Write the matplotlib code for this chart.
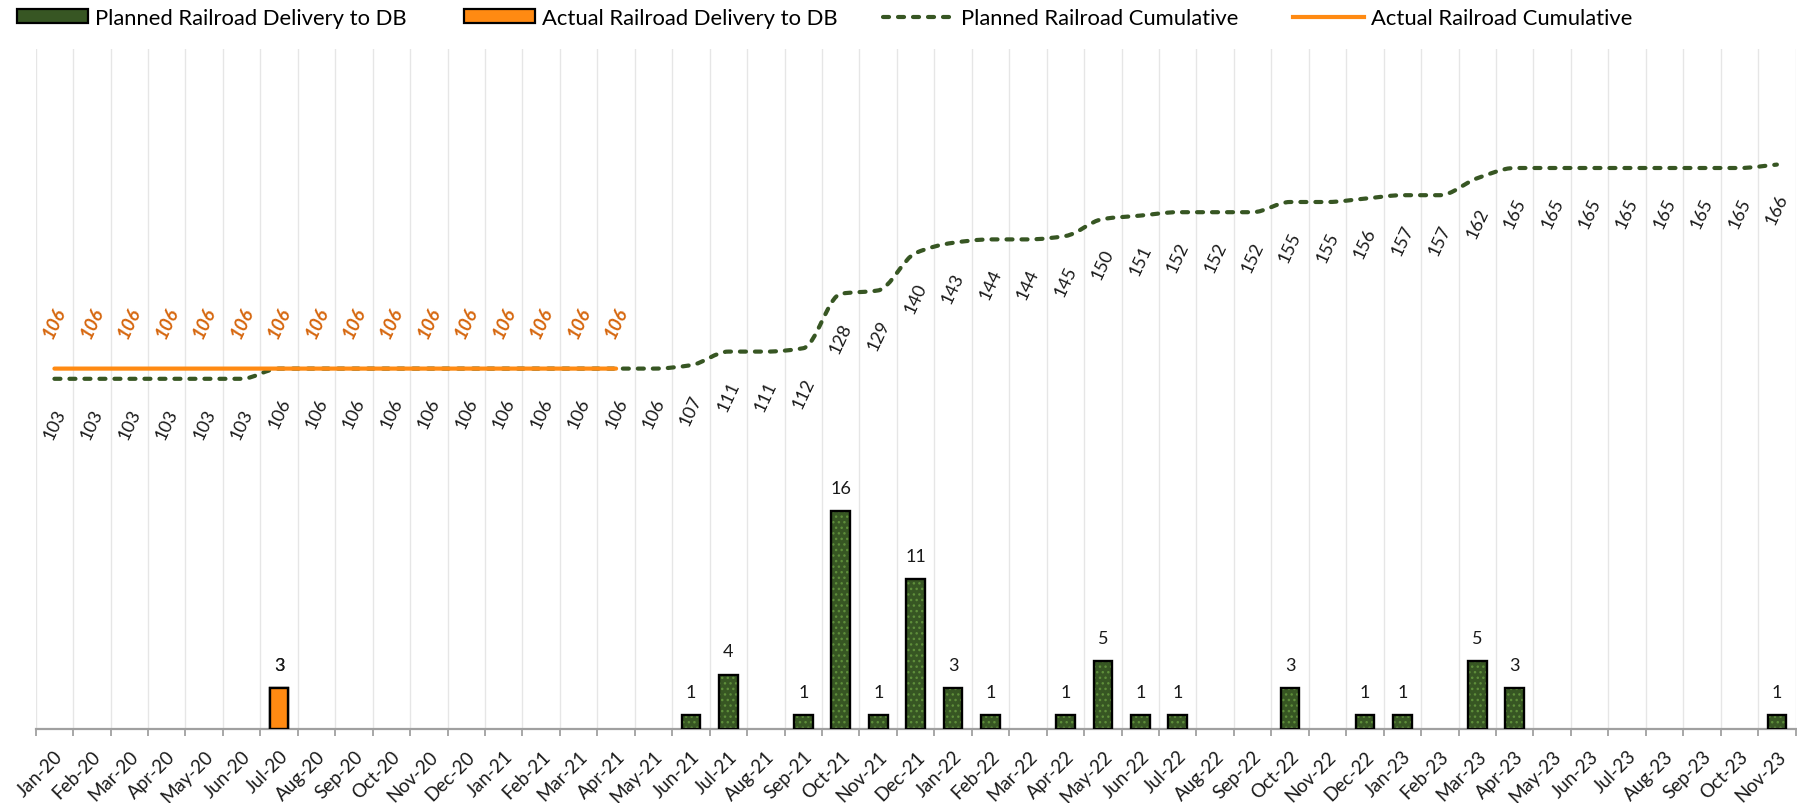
import numpy as np
import matplotlib
matplotlib.use("Agg")
import matplotlib.pyplot as plt
from matplotlib.path import Path
from matplotlib.patches import PathPatch, Patch
from matplotlib.lines import Line2D

# ---------------- data ----------------
months = ["Jan-20", "Feb-20", "Mar-20", "Apr-20", "May-20", "Jun-20", "Jul-20", "Aug-20",
          "Sep-20", "Oct-20", "Nov-20", "Dec-20", "Jan-21", "Feb-21", "Mar-21", "Apr-21",
          "May-21", "Jun-21", "Jul-21", "Aug-21", "Sep-21", "Oct-21", "Nov-21", "Dec-21",
          "Jan-22", "Feb-22", "Mar-22", "Apr-22", "May-22", "Jun-22", "Jul-22", "Aug-22",
          "Sep-22", "Oct-22", "Nov-22", "Dec-22", "Jan-23", "Feb-23", "Mar-23", "Apr-23",
          "May-23", "Jun-23", "Jul-23", "Aug-23", "Sep-23", "Oct-23", "Nov-23"]

planned_delivery = [0, 0, 0, 0, 0, 0, 3, 0, 0, 0, 0, 0, 0, 0, 0, 0,
                    0, 1, 4, 0, 1, 16, 1, 11, 3, 1, 0, 1, 5, 1, 1, 0,
                    0, 3, 0, 1, 1, 0, 5, 3, 0, 0, 0, 0, 0, 0, 1]

actual_delivery = [0, 0, 0, 0, 0, 0, 3, 0, 0, 0, 0, 0, 0, 0, 0, 0]

planned_cumulative = [103, 103, 103, 103, 103, 103, 106, 106, 106, 106, 106, 106, 106, 106, 106, 106,
                      106, 107, 111, 111, 112, 128, 129, 140, 143, 144, 144, 145, 150, 151, 152, 152,
                      152, 155, 155, 156, 157, 157, 162, 165, 165, 165, 165, 165, 165, 165, 166]

actual_cumulative = [106, 106, 106, 106, 106, 106, 106, 106, 106, 106, 106, 106, 106, 106, 106, 106]

series_names = ["Planned Railroad Delivery to DB", "Actual Railroad Delivery to DB",
                "Planned Railroad Cumulative", "Actual Railroad Cumulative"]

# ---------------- style ----------------
GREEN = "#375623"
DOT_GREEN = "#5E8E3A"
ORANGE = "#FF8A12"
ORANGE_TXT = "#D6670F"
GRID = "#E6E6E6"
AXIS = "#A0A0A0"
TXT = "#1A1A1A"
DASH = (0, (1.45, 2.15))

plt.rcParams["font.family"] = ["Lato", "DejaVu Sans"]
plt.rcParams["hatch.linewidth"] = 1.0

W, H, DPI = 1797, 804, 100
fig = plt.figure(figsize=(W / DPI, H / DPI), dpi=DPI)
ax = fig.add_axes([35.7 / W, (H - 730) / H, (1795.6 - 35.7) / W, (730 - 50) / H])
ax2 = ax.twinx()

n = len(months)
x = np.arange(n)
pdel = np.array(planned_delivery)
adel = np.array(actual_delivery)
xp = x[pdel > 0]
xa = np.arange(len(adel))[adel > 0]

# ---- bars ----
bw = 0.5
ax.bar(xp, pdel[pdel > 0], width=bw, color=GREEN, edgecolor=DOT_GREEN, linewidth=0,
       hatch="...", zorder=2)
ax.bar(xp, pdel[pdel > 0], width=bw, facecolor="none", edgecolor="black", linewidth=1.7, zorder=3)
ax.bar(xa, adel[adel > 0], width=bw, color=ORANGE, edgecolor="black", linewidth=1.7, zorder=4)

for i in xp:
    ax.annotate(str(pdel[i]), (i, pdel[i]), xytext=(0, 11), textcoords="offset points",
                ha="center", va="bottom", fontsize=13, color=TXT, zorder=6)
for i in xa:
    ax.annotate(str(adel[i]), (i, adel[i]), xytext=(0, 11), textcoords="offset points",
                ha="center", va="bottom", fontsize=13, color=TXT, zorder=6)

ax.set_xlim(-0.5, n - 0.5)
ax.set_ylim(0, 50)
ax2.set_ylim(0, 200)

# ---- smoothed (monotone) lines ----
def smooth_path(xs, ys):
    xs = np.asarray(xs, float)
    ys = np.asarray(ys, float)
    m = len(xs)
    d = np.diff(ys) / np.diff(xs)
    t = np.zeros(m)
    t[0], t[-1] = d[0], d[-1]
    for k in range(1, m - 1):
        if d[k - 1] * d[k] > 0:
            t[k] = 2.0 / (1.0 / d[k - 1] + 1.0 / d[k])
    verts = [(xs[0], ys[0])]
    codes = [Path.MOVETO]
    for k in range(m - 1):
        h = xs[k + 1] - xs[k]
        verts += [(xs[k] + h / 3, ys[k] + t[k] * h / 3),
                  (xs[k + 1] - h / 3, ys[k + 1] - t[k + 1] * h / 3),
                  (xs[k + 1], ys[k + 1])]
        codes += [Path.CURVE4] * 3
    return Path(verts, codes)

pp = PathPatch(smooth_path(x, planned_cumulative), fill=False, edgecolor=GREEN, linewidth=3.0,
               linestyle=DASH, capstyle="round", zorder=3)
ax2.add_patch(pp)
ap = PathPatch(smooth_path(np.arange(len(actual_cumulative)), actual_cumulative), fill=False,
               edgecolor=ORANGE, linewidth=3.0, capstyle="round", zorder=4)
ax2.add_patch(ap)

for i, v in enumerate(planned_cumulative):
    ax2.annotate(str(v), (i, v), xytext=(0, -32), textcoords="offset points",
                 ha="center", va="center", rotation=65, fontsize=13, color=TXT)
for i, v in enumerate(actual_cumulative):
    ax2.annotate(str(v), (i, v), xytext=(0, 33), textcoords="offset points",
                 ha="center", va="center", rotation=65, fontsize=13.5, color=ORANGE_TXT,
                 fontweight="bold", fontstyle="italic")

# ---- axes styling ----
ax.set_xticks(x)
ax.set_xticklabels(months, rotation=45, ha="right", rotation_mode="anchor",
                   fontsize=13.5, color=TXT)
ax.set_xticks(np.arange(-0.5, n, 1.0), minor=True)
ax.tick_params(axis="x", which="major", length=0, pad=13)
ax.tick_params(axis="x", which="minor", length=5, width=1.3, color=AXIS, direction="out")
ax.grid(axis="x", which="minor", color=GRID, linewidth=1.0, zorder=0)
ax.set_axisbelow(True)
ax.set_yticks([])
ax2.set_yticks([])
for a in (ax, ax2):
    for s in ("top", "left", "right"):
        a.spines[s].set_visible(False)
ax.spines["bottom"].set_color(AXIS)
ax.spines["bottom"].set_linewidth(1.6)
ax2.spines["bottom"].set_visible(False)

# ---- legend (one entry per legend box, placed like the original) ----
handles = [
    Patch(facecolor=GREEN, edgecolor="black", linewidth=1.6),
    Patch(facecolor=ORANGE, edgecolor="black", linewidth=1.6),
    Line2D([0], [0], color=GREEN, linewidth=3.0, linestyle=DASH, dash_capstyle="round"),
    Line2D([0], [0], color=ORANGE, linewidth=3.0),
]
legend_x = [17, 464, 883, 1293]
for hdl, name, lx in zip(handles, series_names, legend_x):
    fig.legend([hdl], [name], loc="center left", bbox_to_anchor=(lx / W, 1 - 19 / H),
               frameon=False, fontsize=15.8, handlelength=3.25, handleheight=0.6,
               handletextpad=0.32, borderpad=0, borderaxespad=0)

fig.savefig("out.png", dpi=DPI)
